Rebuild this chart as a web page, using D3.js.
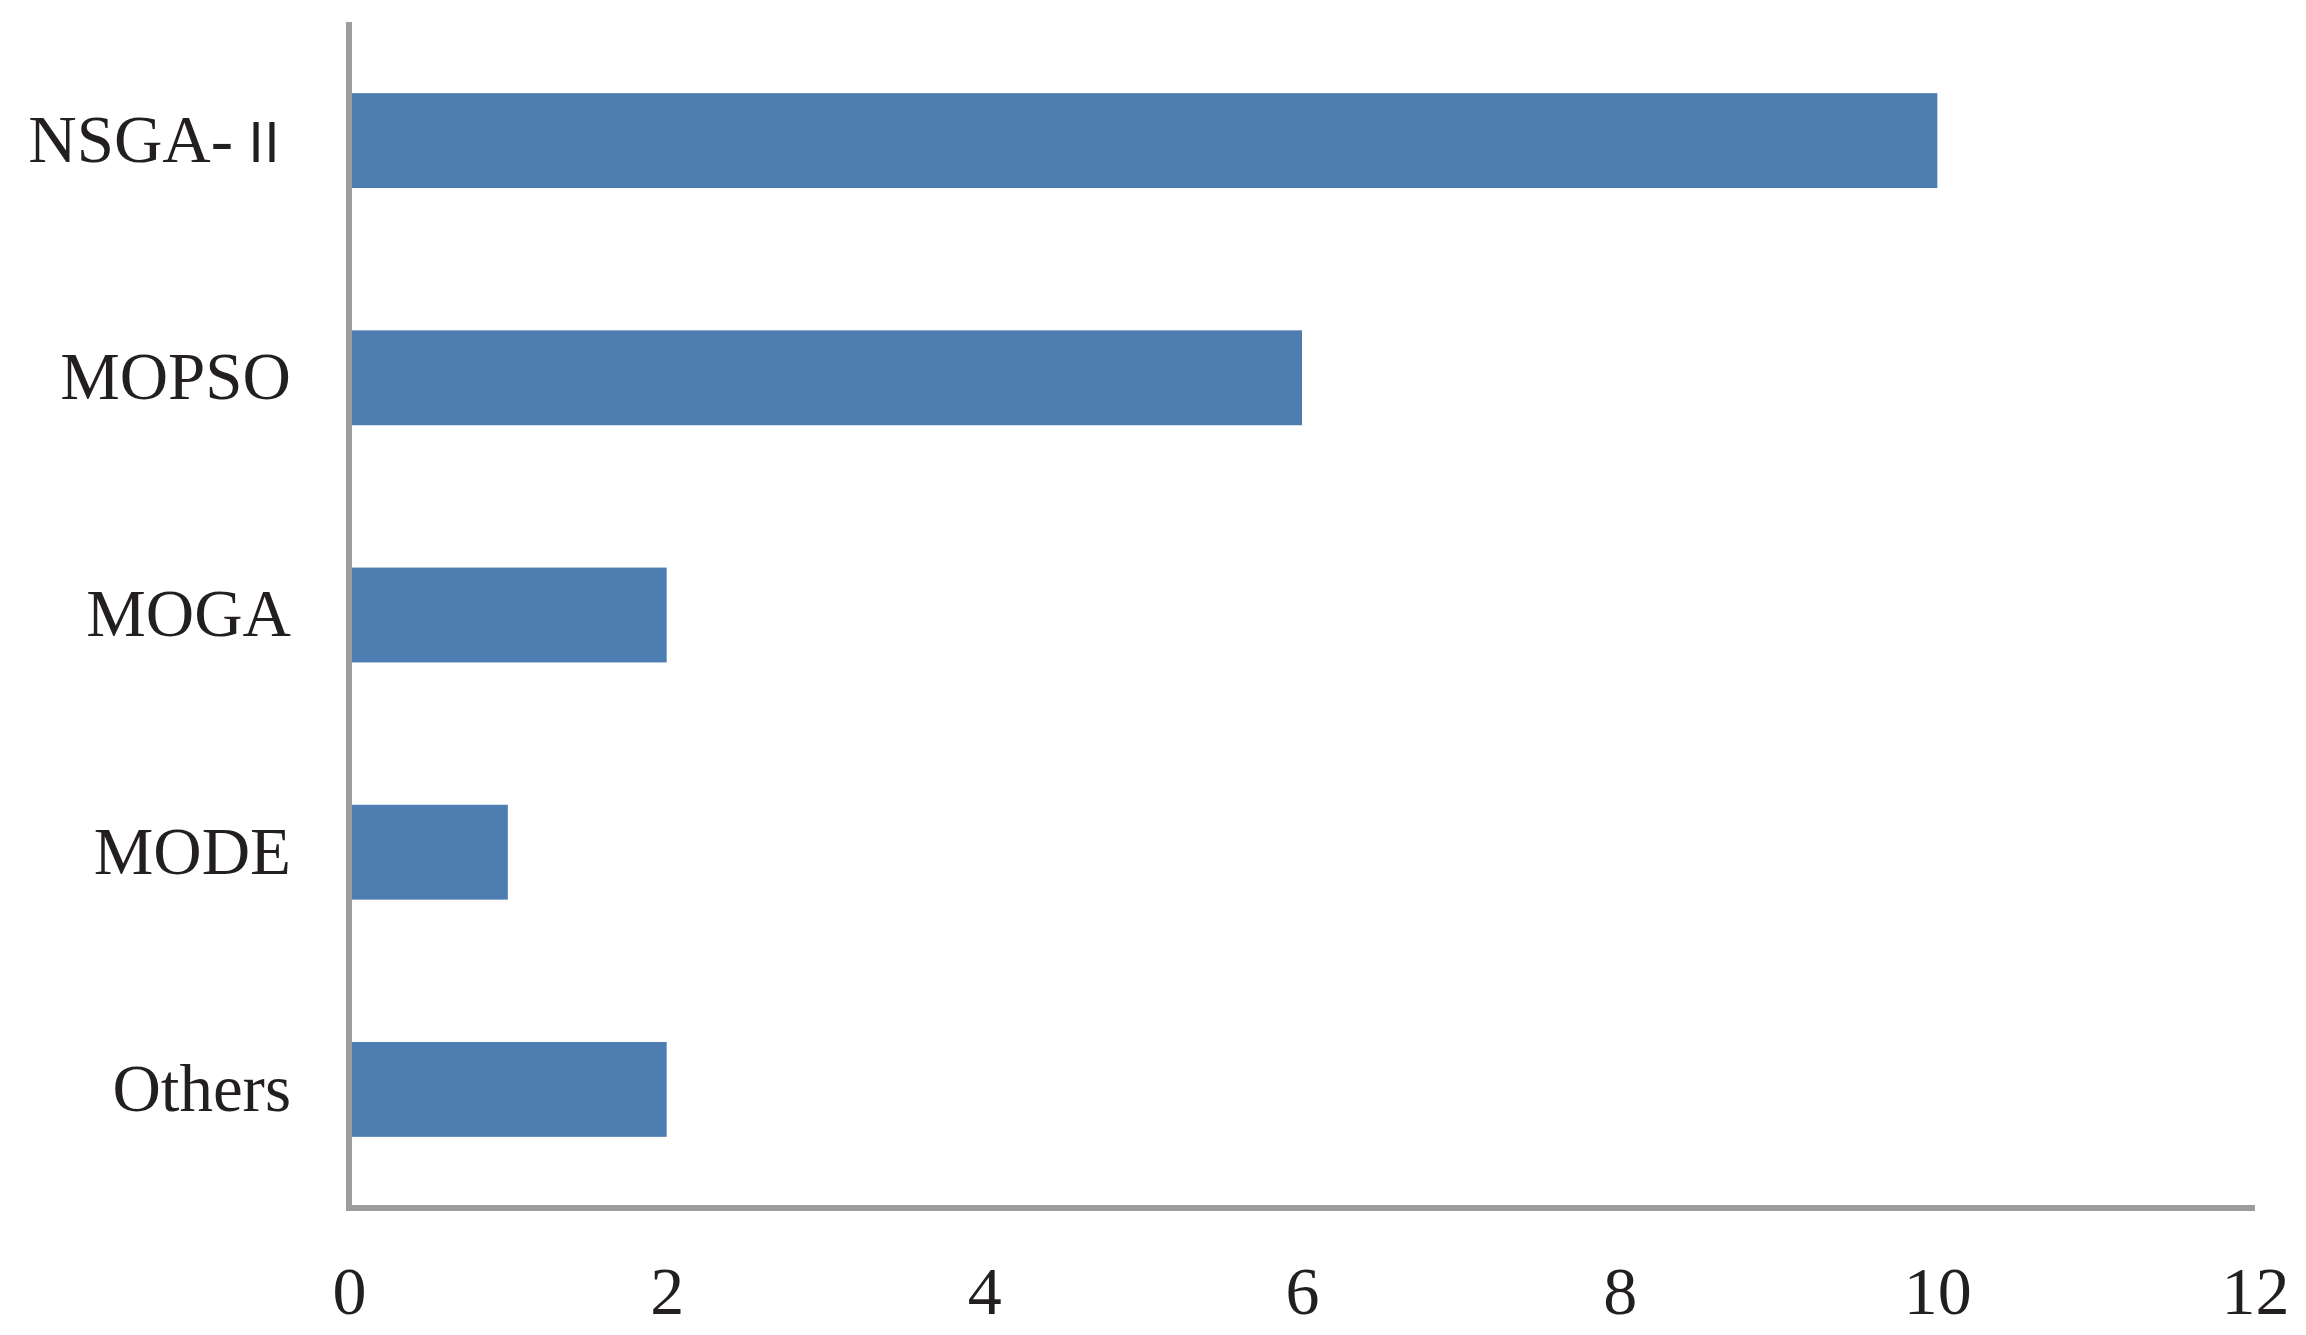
<!DOCTYPE html>
<html>
<head>
<meta charset="utf-8">
<script src="https://cdn.jsdelivr.net/npm/d3@7"></script>
<style>
html, body { margin: 0; padding: 0; background: #fff; }
svg { display: block; }
</style>
</head>
<body>
<svg id="chart" width="2306" height="1335"></svg>
<script>
const categories = ["NSGA-\u2161", "MOPSO", "MOGA", "MODE", "Others"];
const values = [10, 6, 2, 1, 2];
const xTicks = [0, 2, 4, 6, 8, 10, 12];

const W = 2306, H = 1335;
const margin = { left: 349, right: 51, top: 22, bottom: 127 };
const svg = d3.select("#chart");

const x = d3.scaleLinear().domain([0, 12]).range([margin.left, W - margin.right]);
const y = d3.scaleBand().domain(categories).range([margin.top, H - margin.bottom])
  .paddingInner(0.6).paddingOuter(0.3);

const font = "'Liberation Serif', 'Times New Roman', serif";
const axisColor = "#9c9ca1";

// bars
svg.append("g").selectAll("rect").data(categories).join("rect")
  .attr("x", x(0))
  .attr("y", d => y(d))
  .attr("width", (d, i) => x(values[i]) - x(0))
  .attr("height", y.bandwidth())
  .attr("fill", "#4e7eb1");

// x axis
const xAxis = svg.append("g").attr("transform", `translate(0,${H - margin.bottom})`)
  .call(d3.axisBottom(x).tickValues(xTicks).tickSize(0).tickPadding(58).tickFormat(d3.format("d")));
xAxis.select(".domain").attr("stroke", axisColor).attr("stroke-width", 6).attr("d", `M${x(0) - 3},0H${x(12)}`);
xAxis.selectAll("text").attr("font-family", font).attr("font-size", 68).attr("fill", "#231f20");

// y axis
const yAxis = svg.append("g").attr("transform", `translate(${x(0)},0)`)
  .call(d3.axisLeft(y).tickSize(0).tickPadding(58));
yAxis.select(".domain").attr("stroke", axisColor).attr("stroke-width", 6)
  .attr("d", `M0,${margin.top}V${H - margin.bottom + 3}`);
yAxis.selectAll("text").attr("font-family", font).attr("font-size", 67).attr("fill", "#231f20");

// Roman numeral in a full-width CJK glyph, as in the original
yAxis.selectAll(".tick text").each(function(d) {
  const m = /^(.*-)(\u2161)$/.exec(d);
  if (!m) return;
  const t = d3.select(this).text(null);
  t.append("tspan").text(m[1]);
  t.append("tspan").attr("font-family", "'Noto Sans CJK SC', 'Noto Sans CJK JP', serif")
    .attr("font-size", 54).attr("dx", 4).text(m[2]);
});
</script>
</body>
</html>
